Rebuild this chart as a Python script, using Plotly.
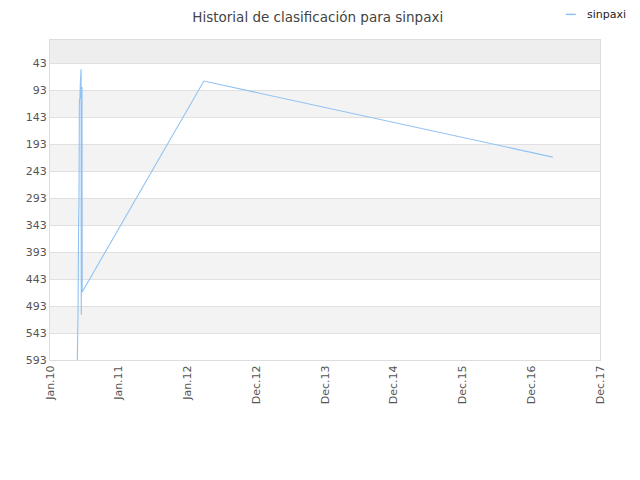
import plotly.graph_objects as go

# Ranking history (lower rank number = better)
fechas = ["2010-05-26", "2010-05-27", "2010-05-30", "2010-06-02", "2010-06-04",
          "2010-06-06", "2010-06-09", "2010-06-11", "2010-06-13", "2010-06-15",
          "2010-06-16", "2010-06-18", "2010-06-20", "2010-06-21",
          "2012-03-28", "2017-04-23"]
posiciones = [593, 500, 498, 330, 300, 112, 108, 80, 71, 54,
              509, 95, 87, 467, 76, 217]

# x ticks are spaced 365 days apart
tick_fechas = ["2010-01-01", "2011-01-01", "2012-01-01", "2012-12-31", "2013-12-31",
               "2014-12-31", "2015-12-31", "2016-12-30", "2017-12-30"]
tick_textos = ["Jan.10", "Jan.11", "Jan.12", "Dec.12", "Dec.13",
               "Dec.14", "Dec.15", "Dec.16", "Dec.17"]
y_ticks = [43, 93, 143, 193, 243, 293, 343, 393, 443, 493, 543, 593]

color_linea = "#90c2f3"

fig = go.Figure()
fig.add_trace(go.Scatter(
    x=fechas, y=posiciones, mode="lines", name="sinpaxi",
    line=dict(color=color_linea, width=1.1),
))

# alternating grey bands between the ticks
bandas = [(0, 43, "#eeeeee")]
for i in range(1, len(y_ticks) - 1, 2):
    bandas.append((y_ticks[i], y_ticks[i + 1], "#f3f3f3"))
for y0, y1, color in bandas:
    fig.add_shape(type="rect", xref="paper", yref="y", x0=0, x1=1, y0=y0, y1=y1,
                  fillcolor=color, line_width=0, layer="below")

# small legend in the top right corner
fig.add_shape(type="line", xref="paper", yref="paper", x0=0.938, x1=0.956,
              y0=1.08, y1=1.08, line=dict(color=color_linea, width=1.5))
fig.add_annotation(text="sinpaxi", xref="paper", yref="paper", x=0.973, y=1.08,
                   xanchor="left", yanchor="middle", showarrow=False,
                   font=dict(size=11, color="#222222"))

fig.update_layout(
    width=640, height=480,
    margin=dict(l=42, r=48, t=32, b=128),
    paper_bgcolor="white", plot_bgcolor="white",
    font=dict(family="DejaVu Sans", size=11, color="#555555"),
    title=dict(text="Historial de clasificación para sinpaxi", x=0.484, xanchor="center",
               y=0.981, yanchor="middle", font=dict(size=13.5, color="#444444")),
    showlegend=False,
)
fig.update_xaxes(
    type="date", range=["2010-01-01", "2017-12-30"],
    tickvals=tick_fechas, ticktext=tick_textos, tickangle=-90,
    showgrid=False, showline=True, linecolor="#dddddd", mirror=True,
    ticks="", zeroline=False,
)
fig.update_yaxes(
    range=[593, 0], tickvals=y_ticks, ticktext=[str(v) for v in y_ticks],
    showgrid=True, gridcolor="#e0e0e0", showline=True, linecolor="#dddddd",
    mirror=True, ticks="", zeroline=False,
)

fig.write_html("out.html")
